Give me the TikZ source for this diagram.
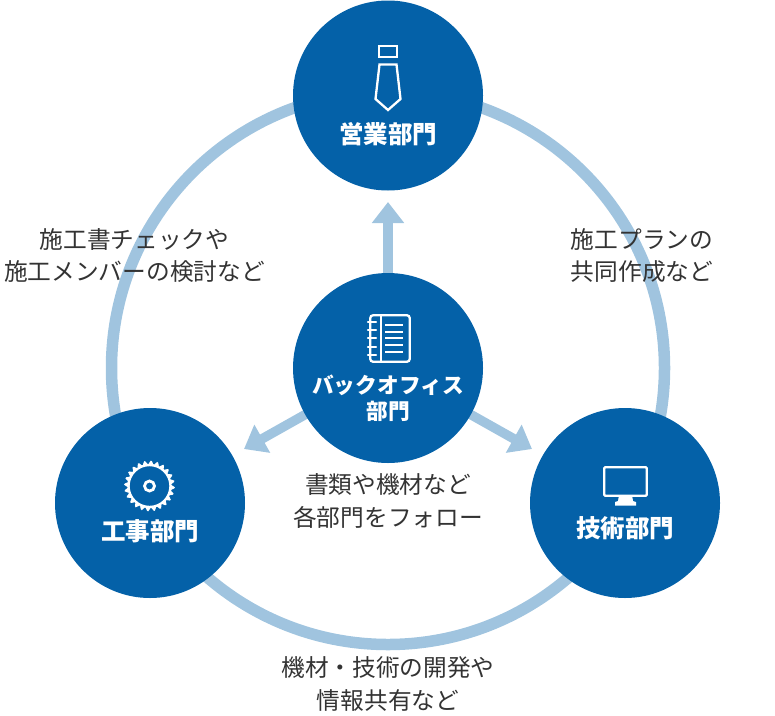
\documentclass[tikz,border=0pt]{standalone}
\usepackage{fontspec}
\setmainfont{Noto Sans CJK JP}
\usetikzlibrary{arrows.meta,calc}
\definecolor{deptblue}{HTML}{0461A8}
\definecolor{ringblue}{HTML}{A0C4DF}
\definecolor{txt}{HTML}{333333}
\tikzset{
  x=1pt,y=-1pt,
  dept/.style={circle,fill=deptblue,minimum size=190pt,inner sep=0pt},
  deptlabel/.style={text=white,font=\fontsize{24.5}{27}\selectfont\bfseries,align=center,inner sep=0pt},
  backlabel/.style={text=white,font=\fontsize{21.7}{26}\selectfont\bfseries,align=center,inner sep=0pt},
  note/.style={text=txt,font=\fontsize{23.7}{32.5}\selectfont,align=center,inner sep=0pt},
  ring/.style={draw=ringblue,line width=11.5pt},
  flow/.style={draw=ringblue,line width=9.5pt,-{Triangle[length=21pt,width=31pt]}},
  icon/.style={draw=white,line width=2.3pt,line join=miter},
}
\begin{document}
\begin{tikzpicture}
\useasboundingbox (0,0) rectangle (775,715);
\coordinate (hub) at (388,368);
\draw[ring] (hub) circle[radius=276.5];
\node[dept] (sales) at (388,95.5) {};
\node[dept] (site) at (150,503) {};
\node[dept] (tech) at (625,503) {};
\coordinate (tipS) at (388,202);
\coordinate (tipL) at (244,449);
\coordinate (tipR) at (532,449);
\draw[flow] (hub) -- (tipS);
\draw[flow] (hub) -- (tipL);
\draw[flow] (hub) -- (tipR);
\node[dept] (back) at (388,368) {};
% labels
\node[deptlabel] (l1) at (388,134) {営業部門};
\node[backlabel] (l2) at (388,398) {バックオフィス\\部門};
\node[deptlabel] (l3) at (150,531) {工事部門};
\node[deptlabel] (l4) at (625,528) {技術部門};
\node[note] (n1) at (134.5,255.5) {施工書チェックや\\施工メンバーの検討など};
\node[note] (n2) at (642,255.5) {施工プランの\\共同作成など};
\node[note] (n3) at (388,501) {書類や機材など\\各部門をフォロー};
\node[note] (n4) at (388,684) {機材・技術の開発や\\情報共有など};
% tie
\draw[icon] (379.2,46.2) rectangle (396.8,56.8);
\draw[icon] (379.5,64.5) -- (396.5,64.5) -- (400.5,99) -- (388,110) -- (375.5,99) -- cycle;
% notebook
\draw[icon,rounded corners=3pt] (370.2,315.2) rectangle (409.8,361.8);
\draw[draw=white,line width=1.6pt] (381,315) -- (381,361);
\foreach \yy in {325,332,338,345,352}{
  \draw[draw=white,line width=1.2pt] (385,\yy) -- (403,\yy);}
\foreach \yy in {322,330,338,347,355}{
  \draw[draw=white,line width=2.3pt,line cap=round] (368,\yy) -- (376,\yy);}
% saw
\fill[white,even odd rule]
  plot[samples=121,domain=0:360,smooth] ({149.5+(23.6+1.9*sin(24*\x))*cos(\x)},{486+(23.6+1.9*sin(24*\x))*sin(\x)}) -- cycle
  (149.5,486) circle[radius=19.8];
\draw[white,line width=2.8pt] (149.5,486) circle[radius=5];
% monitor
\draw[icon,rounded corners=1pt] (604.2,467.2) rectangle (646.8,495.8);
\fill[white] (619,495) -- (632,495) -- (633,501) -- (636,502) -- (636,505.5) -- (615,505.5) -- (615,502) -- (618,501) -- cycle;
\end{tikzpicture}
\end{document}
